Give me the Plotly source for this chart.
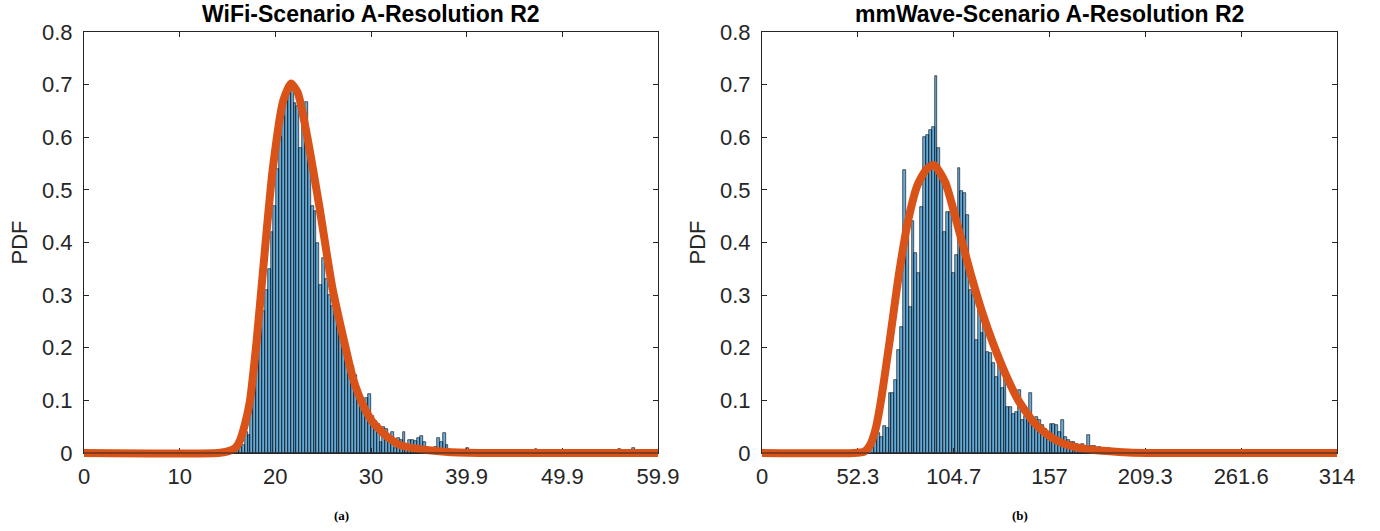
import numpy as np
import plotly.graph_objects as go

# ---------------- data ----------------
# Left panel (WiFi): histogram, 200 bins over [0, 59.9]
wifi_xmax = 59.9
wifi_nbins = 200
wifi_first_bin = 53
wifi_heights = [
    0.010, 0.012, 0.015, 0.040, 0.034, 0.107, 0.145, 0.200, 0.240, 0.270,   # 53-62
    0.310, 0.350, 0.420, 0.470, 0.540, 0.600, 0.640, 0.680, 0.700, 0.690,   # 63-72
    0.665, 0.660, 0.580, 0.640, 0.667, 0.560, 0.470, 0.460, 0.400, 0.320,   # 73-82
    0.370, 0.330, 0.300, 0.280, 0.260, 0.250, 0.240, 0.234, 0.180, 0.170,   # 83-92
    0.165, 0.148, 0.120, 0.105, 0.090, 0.105, 0.112, 0.070, 0.060, 0.055,   # 93-102
    0.020, 0.050, 0.045, 0.020, 0.040, 0.010, 0.028, 0.024, 0.040, 0.012,   # 103-112
    0.025, 0.025, 0.022, 0.028, 0.033, 0.020, 0.010, 0.008, 0.005, 0.012,   # 113-122
    0.028, 0.020, 0.038, 0.015, 0.005, 0.004, 0.000, 0.004, 0.006, 0.004,   # 123-132
    0.010, 0.006, 0.004, 0.003, 0.000, 0.000, 0.000, 0.000, 0.000, 0.000,   # 133-142
    0.000, 0.000, 0.000, 0.000, 0.000, 0.000, 0.000, 0.000, 0.000, 0.000,   # 143-152
    0.000, 0.000, 0.000, 0.000, 0.008, 0.000, 0.000, 0.000, 0.000, 0.000,   # 153-162
    0.000, 0.000, 0.000, 0.000, 0.000, 0.000, 0.000, 0.000, 0.000, 0.000,   # 163-172
    0.000, 0.000, 0.000, 0.000, 0.000, 0.000, 0.000, 0.000, 0.000, 0.000,   # 173-182
    0.000, 0.000, 0.000, 0.008, 0.000, 0.003, 0.000, 0.000, 0.010, 0.000,   # 183-192
    0.000, 0.000, 0.000, 0.000, 0.000, 0.005, 0.000,                        # 193-199
]
wifi_fit_x = [0, 14.0, 15.0, 15.8, 16.3, 16.8, 17.3, 18.0, 18.7, 19.7, 20.8, 21.6,
              22.3, 23.1, 24.5, 25.9, 27.3, 28.1, 29.2, 30.2, 31.7, 33.0, 34.8,
              38.0, 42.0, 59.9]
wifi_fit_y = [0, 0.000, 0.003, 0.010, 0.025, 0.055, 0.097, 0.210, 0.350, 0.540, 0.670, 0.702,
              0.685, 0.620, 0.475, 0.316, 0.200, 0.140, 0.088, 0.057, 0.030, 0.015, 0.008,
              0.002, 0.000, 0.000]

# Right panel (mmWave): histogram, 200 bins over [0, 314]
mm_xmax = 314
mm_nbins = 200
mm_first_bin = 38
mm_heights = [
    0.012, 0.030, 0.038, 0.030, 0.051, 0.047, 0.114, 0.114, 0.139, 0.196,   # 38-47
    0.240, 0.538, 0.410, 0.278, 0.440, 0.380, 0.342, 0.468, 0.600, 0.605,   # 48-57
    0.614, 0.620, 0.716, 0.580, 0.530, 0.420, 0.458, 0.458, 0.342, 0.376,   # 58-67
    0.542, 0.497, 0.494, 0.452, 0.310, 0.300, 0.215, 0.272, 0.228, 0.260,   # 68-77
    0.192, 0.190, 0.171, 0.145, 0.173, 0.124, 0.148, 0.088, 0.088, 0.075,   # 78-87
    0.078, 0.120, 0.063, 0.070, 0.075, 0.114, 0.057, 0.068, 0.063, 0.053,   # 88-97
    0.045, 0.040, 0.055, 0.055, 0.053, 0.040, 0.063, 0.030, 0.025, 0.020,   # 98-107
    0.021, 0.018, 0.012, 0.018, 0.012, 0.034, 0.013, 0.013, 0.010, 0.012,   # 108-117
    0.008, 0.010, 0.010, 0.008, 0.006, 0.004, 0.004, 0.000, 0.000, 0.000,   # 118-127
    0.000, 0.000, 0.000, 0.000, 0.000, 0.000, 0.000, 0.000, 0.000, 0.000,   # 128-137
    0.000, 0.000, 0.000, 0.000, 0.000, 0.000, 0.000, 0.000, 0.000, 0.000,   # 138-147
    0.000, 0.000, 0.000, 0.000, 0.000, 0.000, 0.000, 0.000, 0.000, 0.000,   # 148-157
    0.000, 0.006,                                                           # 158-159
]
mm_fit_x = [0, 50, 56, 59, 62, 65, 70, 75, 80, 85, 90, 94, 100, 107, 114, 120,
            126, 133, 140, 148, 155, 163, 170, 180, 195, 210, 314]
mm_fit_y = [0, 0.000, 0.003, 0.015, 0.045, 0.100, 0.220, 0.345, 0.445, 0.510, 0.540, 0.547,
            0.515, 0.430, 0.340, 0.270, 0.210, 0.150, 0.100, 0.060, 0.037, 0.020, 0.012,
            0.006, 0.002, 0.000, 0.000]

wifi_ticks = [0, 9.9833, 19.9667, 29.95, 39.9333, 49.9167, 59.9]
wifi_ticktext = ["0", "10", "20", "30", "39.9", "49.9", "59.9"]
mm_ticks = [0, 52.333, 104.667, 157, 209.333, 261.667, 314]
mm_ticktext = ["0", "52.3", "104.7", "157", "209.3", "261.6", "314"]
y_ticks = [0, 0.1, 0.2, 0.3, 0.4, 0.5, 0.6, 0.7, 0.8]
y_ticktext = ["0", "0.1", "0.2", "0.3", "0.4", "0.5", "0.6", "0.7", "0.8"]

titles = ["WiFi-Scenario A-Resolution R2", "mmWave-Scenario A-Resolution R2"]
captions = ["(a)", "(b)"]

# ---------------- layout constants ----------------
W, H = 1380, 531
left_dom = [84 / W, 658 / W]
right_dom = [762 / W, 1337 / W]
top_px, bot_px = 32, 453
ydom = [1 - bot_px / H, 1 - top_px / H]
ext_px = 12
ydom_ext = [1 - (bot_px + ext_px) / H, 1 - top_px / H]
ppu = (bot_px - top_px) / 0.8
y_ext_range = [-ext_px / ppu, 0.8]

axis_col = "#262626"
bar_fill = "rgba(0,114,189,0.6)"
fit_col = "#D95319"
sans = "Liberation Sans, Arial, sans-serif"
tick_font = dict(family=sans, size=22, color=axis_col)

fig = go.Figure()

def add_hist(xmax, nbins, first, heights, xa, ya):
    w = xmax / nbins
    centers = (np.arange(len(heights)) + first + 0.5) * w
    fig.add_trace(go.Bar(x=centers, y=heights, width=w, xaxis=xa, yaxis=ya,
                         marker=dict(color=bar_fill, line=dict(color="black", width=0.6)),
                         showlegend=False, hoverinfo="skip"))

add_hist(wifi_xmax, wifi_nbins, wifi_first_bin, wifi_heights, "x", "y")
add_hist(mm_xmax, mm_nbins, mm_first_bin, mm_heights, "x2", "y2")

fig.add_trace(go.Scatter(x=wifi_fit_x, y=wifi_fit_y, mode="lines", xaxis="x3", yaxis="y3",
                         line=dict(color=fit_col, width=8, shape="spline", smoothing=0.6),
                         showlegend=False, hoverinfo="skip"))
fig.add_trace(go.Scatter(x=mm_fit_x, y=mm_fit_y, mode="lines", xaxis="x4", yaxis="y4",
                         line=dict(color=fit_col, width=8, shape="spline", smoothing=0.6),
                         showlegend=False, hoverinfo="skip"))

def xax(dom, rng, tv, tt, anchor):
    return dict(domain=dom, range=rng, anchor=anchor, tickvals=tv, ticktext=tt,
                ticks="inside", ticklen=5, tickcolor=axis_col, tickwidth=1,
                showline=True, linecolor=axis_col, linewidth=1, mirror="ticks",
                showgrid=False, zeroline=False, tickfont=tick_font, ticklabelstandoff=4,
                automargin=False)

def yax(rng, anchor, title):
    return dict(domain=ydom, range=rng, anchor=anchor, tickvals=y_ticks, ticktext=y_ticktext,
                ticks="inside", ticklen=5, tickcolor=axis_col, tickwidth=1,
                showline=True, linecolor=axis_col, linewidth=1, mirror="ticks",
                showgrid=False, zeroline=False, tickfont=tick_font, automargin=False,
                ticklabelstandoff=6,
                title=dict(text=title, font=dict(family=sans, size=22, color=axis_col),
                           standoff=8))

def hidden(dom, rng, anchor):
    return dict(domain=dom, range=rng, anchor=anchor, visible=False, showgrid=False,
                zeroline=False, fixedrange=True, automargin=False)

fig.update_layout(
    width=W, height=H,
    margin=dict(l=0, r=0, t=0, b=0, autoexpand=False),
    paper_bgcolor="white", plot_bgcolor="rgba(0,0,0,0)",
    bargap=0,
    xaxis=xax(left_dom, [0, wifi_xmax], wifi_ticks, wifi_ticktext, "y"),
    yaxis=yax([0, 0.8], "x", "PDF"),
    xaxis2=xax(right_dom, [0, mm_xmax], mm_ticks, mm_ticktext, "y2"),
    yaxis2=yax([0, 0.8], "x2", "PDF"),
    xaxis3=hidden(left_dom, [0, wifi_xmax], "y3"),
    yaxis3=hidden(ydom_ext, y_ext_range, "x3"),
    xaxis4=hidden(right_dom, [0, mm_xmax], "y4"),
    yaxis4=hidden(ydom_ext, y_ext_range, "x4"),
)

# axis line at y=0 drawn above the fit curves
for dom in (left_dom, right_dom):
    fig.add_shape(type="line", xref="paper", yref="paper", x0=dom[0], x1=dom[1],
                  y0=ydom[0], y1=ydom[0], line=dict(color=axis_col, width=1), layer="above")

for dom, t in zip((left_dom, right_dom), titles):
    fig.add_annotation(x=(dom[0] + dom[1]) / 2, y=1 - 14 / H, xref="paper", yref="paper",
                       text=f"<b>{t}</b>", showarrow=False,
                       font=dict(family=sans, size=23, color="black"),
                       xanchor="center", yanchor="middle")

for xc, c in zip((341 / W, 1020 / W), captions):
    fig.add_annotation(x=xc, y=1 - 515 / H, xref="paper", yref="paper",
                       text=f"<b>{c}</b>", showarrow=False,
                       font=dict(family="Liberation Serif, Times New Roman, serif", size=13, color="black"),
                       xanchor="center", yanchor="middle")

fig.write_html("out.html", config={"displayModeBar": False},
               post_script="document.body.style.margin='0';")
